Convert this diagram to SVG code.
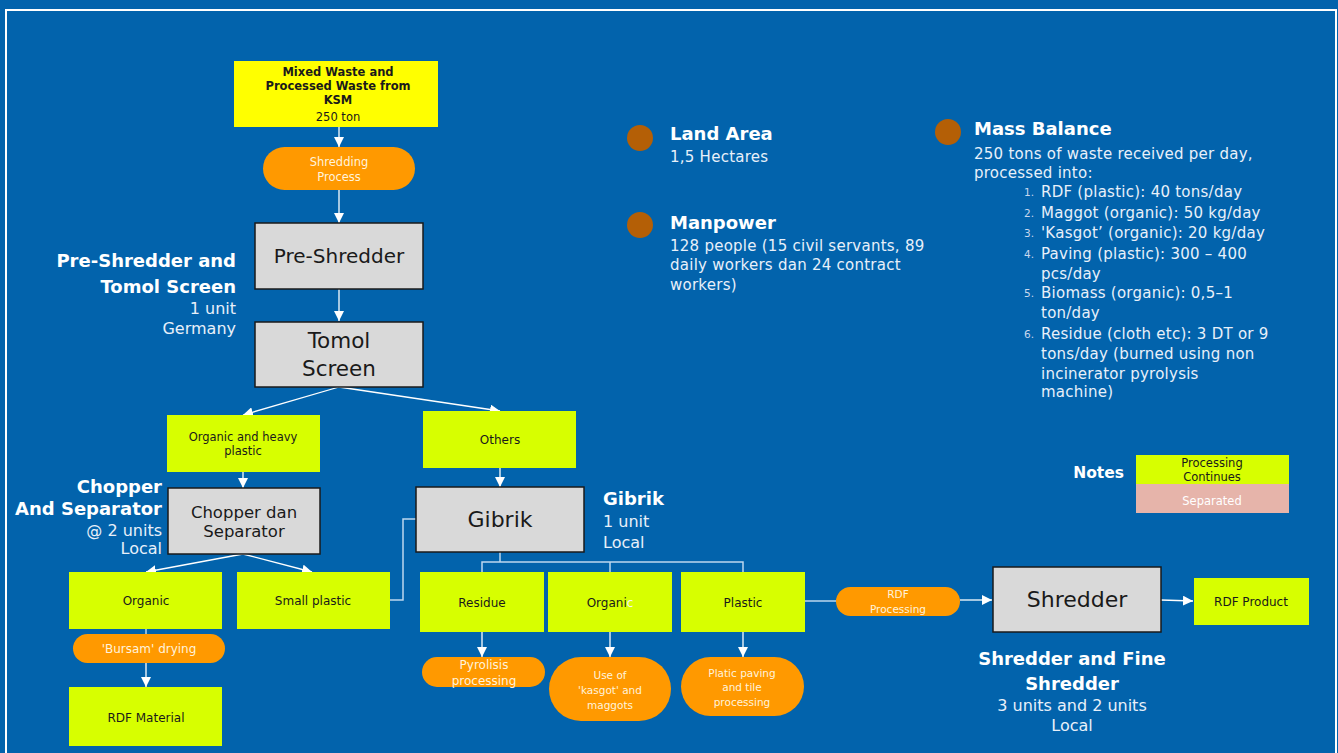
<svg xmlns="http://www.w3.org/2000/svg" width="1338" height="753" viewBox="0 0 1338 753">
<defs>
<marker id="ah" viewBox="0 0 10 10" refX="10" refY="5" markerWidth="10" markerHeight="10" markerUnits="userSpaceOnUse" orient="auto">
<path d="M0,0 L10,5 L0,10 z" fill="#FFFFFF"/>
</marker>
<style>
text{font-family:"DejaVu Sans","Open Sans",sans-serif}
.lime{fill:#D7FF00}
.gray{fill:#D9D9D9;stroke:#1A1A1A;stroke-width:1.5}
.pill{fill:#FF9900}
.dk{fill:#1A1A1A;text-anchor:middle}
.pt{fill:#FFF3DC;text-anchor:middle}
.big{fill:#1A1A1A;text-anchor:middle}
.hd{fill:#FFFFFF;font-weight:bold;font-size:18px}
.sub{fill:#E8F0FA;font-size:16px}
.info{fill:#E8F0FA;font-size:15px;letter-spacing:0.25px}
.num{fill:#C9D8EE;font-size:10.5px}
.c{stroke:#FFFFFF;stroke-width:1.3;fill:none;marker-end:url(#ah)}
.l{stroke:#BDD7EE;stroke-width:1.5;fill:none}
</style>
</defs>
<rect x="0" y="0" width="1338" height="753" fill="#0263AC"/>
<rect x="6" y="10" width="1330" height="760" fill="none" stroke="#FFFFFF" stroke-width="2"/>

<g id="connectors">
<line class="c" x1="339" y1="127" x2="339" y2="147"/>
<line class="c" x1="339" y1="190" x2="339" y2="223"/>
<line class="c" x1="339" y1="289" x2="339" y2="321"/>
<line class="c" x1="339" y1="387" x2="243" y2="415"/>
<line class="c" x1="339" y1="387" x2="500" y2="411"/>
<line class="c" x1="243" y1="472" x2="243" y2="488"/>
<line class="c" x1="243" y1="554" x2="146" y2="572"/>
<line class="c" x1="243" y1="554" x2="312" y2="572"/>
<polyline class="l" points="390,600 403,600 403,519 416,519"/>
<line class="l" x1="146" y1="629" x2="146" y2="634"/>
<line class="c" x1="146" y1="663" x2="146" y2="687"/>
<line class="c" x1="500" y1="468" x2="500" y2="487"/>
<polyline class="l" points="500,552 500,562"/>
<polyline class="l" points="482,572 482,562 743,562 743,572"/>
<line class="l" x1="610" y1="562" x2="610" y2="572"/>
<line class="c" x1="482" y1="632" x2="482" y2="657"/>
<line class="c" x1="610" y1="632" x2="610" y2="657"/>
<line class="c" x1="743" y1="632" x2="743" y2="657"/>
<line class="l" x1="805" y1="601" x2="837" y2="601"/>
<line class="c" x1="960" y1="600" x2="992" y2="600"/>
<line class="c" x1="1161" y1="600" x2="1193" y2="601"/>
</g>

<g id="input">
<rect x="234" y="61" width="204" height="66" fill="#FFFF00"/>
<text class="dk" x="338" y="76" font-size="11.5" font-weight="bold">Mixed Waste and</text>
<text class="dk" x="338" y="90" font-size="11.5" font-weight="bold">Processed Waste from</text>
<text class="dk" x="338" y="104" font-size="11.5" font-weight="bold">KSM</text>
<text class="dk" x="338" y="121" font-size="11.5">250 ton</text>
</g>

<g id="shredding-process">
<rect class="pill" x="263" y="147" width="152" height="43" rx="21.5"/>
<text class="pt" x="339" y="166" font-size="11.5">Shredding</text>
<text class="pt" x="339" y="181" font-size="11.5">Process</text>
</g>

<g id="pre-shredder">
<rect class="gray" x="255" y="223" width="168" height="66"/>
<text class="big" x="339" y="263" font-size="20">Pre-Shredder</text>
</g>

<g id="tomol-screen">
<rect class="gray" x="255" y="322" width="168" height="65"/>
<text class="big" x="339" y="348" font-size="21.5">Tomol</text>
<text class="big" x="339" y="376" font-size="21.5">Screen</text>
</g>

<g id="label-preshredder" text-anchor="end">
<text class="hd" x="236" y="267">Pre-Shredder and</text>
<text class="hd" x="236" y="293">Tomol Screen</text>
<text class="sub" x="236" y="314">1 unit</text>
<text class="sub" x="236" y="334">Germany</text>
</g>

<g id="organic-heavy">
<rect class="lime" x="167" y="415" width="153" height="57"/>
<text class="dk" x="243" y="441" font-size="11.5">Organic and heavy</text>
<text class="dk" x="243" y="455" font-size="11.5">plastic</text>
</g>

<g id="chopper">
<rect class="gray" x="168" y="488" width="152" height="66"/>
<text class="big" x="244" y="518" font-size="16.5">Chopper dan</text>
<text class="big" x="244" y="537" font-size="16.5">Separator</text>
</g>

<g id="label-chopper" text-anchor="end">
<text class="hd" x="162" y="493">Chopper</text>
<text class="hd" x="162" y="515">And Separator</text>
<text class="sub" x="162" y="536">@ 2 units</text>
<text class="sub" x="162" y="554">Local</text>
</g>

<g id="organic-left">
<rect class="lime" x="69" y="572" width="153" height="57"/>
<text class="dk" x="146" y="605" font-size="12">Organic</text>
</g>

<g id="small-plastic">
<rect class="lime" x="237" y="572" width="153" height="57"/>
<text class="dk" x="313" y="605" font-size="12">Small plastic</text>
</g>

<g id="bursam">
<rect class="pill" x="73" y="634" width="152" height="29" rx="14.5"/>
<text class="pt" x="149" y="653" font-size="12">'Bursam' drying</text>
</g>

<g id="rdf-material">
<rect class="lime" x="69" y="687" width="153" height="59"/>
<text class="dk" x="146" y="722" font-size="12">RDF Material</text>
</g>

<g id="others">
<rect class="lime" x="423" y="411" width="153" height="57"/>
<text class="dk" x="500" y="444" font-size="12">Others</text>
</g>

<g id="gibrik">
<rect class="gray" x="416" y="487" width="168" height="65"/>
<text class="big" x="500" y="527" font-size="22">Gibrik</text>
</g>

<g id="label-gibrik">
<text class="hd" x="603" y="505">Gibrik</text>
<text class="sub" x="603" y="527">1 unit</text>
<text class="sub" x="603" y="548">Local</text>
</g>

<g id="residue">
<rect class="lime" x="420" y="572" width="124" height="60"/>
<text class="dk" x="482" y="607" font-size="12">Residue</text>
</g>

<g id="organic-mid">
<rect class="lime" x="548" y="572" width="124" height="60"/>
<text class="dk" x="610" y="607" font-size="12">Organi<tspan fill="#F4F4F4">c</tspan></text>
</g>

<g id="plastic">
<rect class="lime" x="681" y="572" width="124" height="60"/>
<text class="dk" x="743" y="607" font-size="12">Plastic</text>
</g>

<g id="pyrolisis">
<rect class="pill" x="422" y="657" width="123" height="30" rx="15"/>
<text class="pt" x="484" y="669" font-size="12">Pyrolisis</text>
<text class="pt" x="484" y="685" font-size="12">processing</text>
</g>

<g id="kasgot">
<rect class="pill" x="549" y="657" width="122" height="64" rx="32"/>
<text class="pt" x="610" y="679" font-size="10.5">Use of</text>
<text class="pt" x="610" y="694" font-size="10.5">'kasgot' and</text>
<text class="pt" x="610" y="709" font-size="10.5">maggots</text>
</g>

<g id="paving">
<rect class="pill" x="681" y="657" width="123" height="59" rx="29.5"/>
<text class="pt" x="742" y="677" font-size="10.5">Platic paving</text>
<text class="pt" x="742" y="691" font-size="10.5">and tile</text>
<text class="pt" x="742" y="706" font-size="10.5">processing</text>
</g>

<g id="rdf-processing">
<rect class="pill" x="836" y="587" width="124" height="29" rx="14.5"/>
<text class="pt" x="898" y="598" font-size="10.5">RDF</text>
<text class="pt" x="898" y="613" font-size="10.5">Processing</text>
</g>

<g id="shredder">
<rect class="gray" x="993" y="567" width="168" height="65"/>
<text class="big" x="1077" y="607" font-size="22">Shredder</text>
</g>

<g id="rdf-product">
<rect class="lime" x="1194" y="578" width="115" height="47"/>
<text class="dk" x="1251" y="606" font-size="12">RDF Product</text>
</g>

<g id="label-shredder" text-anchor="middle">
<text class="hd" x="1072" y="665">Shredder and Fine</text>
<text class="hd" x="1072" y="690">Shredder</text>
<text class="sub" x="1072" y="711">3 units and 2 units</text>
<text class="sub" x="1072" y="731">Local</text>
</g>

<g id="notes">
<text x="1124" y="478" fill="#FFFFFF" font-weight="bold" font-size="15.5" text-anchor="end">Notes</text>
<rect class="lime" x="1136" y="455" width="153" height="29"/>
<text class="dk" x="1212" y="467" font-size="11.5">Processing</text>
<text class="dk" x="1212" y="481" font-size="11.5">Continues</text>
<rect x="1136" y="484" width="153" height="29" fill="#E6B4AA"/>
<text x="1212" y="505" fill="#FFFFFF" font-size="11.5" text-anchor="middle">Separated</text>
</g>

<g id="land-area">
<circle cx="640" cy="138" r="13" fill="#B45F06"/>
<text class="hd" x="670" y="140">Land Area</text>
<text class="info" x="670" y="162">1,5 Hectares</text>
</g>

<g id="manpower">
<circle cx="640" cy="225" r="13" fill="#B45F06"/>
<text class="hd" x="670" y="229">Manpower</text>
<text class="info" x="670" y="251">128 people (15 civil servants, 89</text>
<text class="info" x="670" y="270">daily workers dan 24 contract</text>
<text class="info" x="670" y="290">workers)</text>
</g>

<g id="mass-balance">
<circle cx="948" cy="132" r="13" fill="#B45F06"/>
<text class="hd" x="974" y="135">Mass Balance</text>
<text class="info" x="974" y="159">250 tons of waste received per day,</text>
<text class="info" x="974" y="178">processed into:</text>
<text class="num" x="1024" y="196">1.</text>
<text class="info" x="1041" y="197">RDF (plastic): 40 tons/day</text>
<text class="num" x="1024" y="217">2.</text>
<text class="info" x="1041" y="218">Maggot (organic): 50 kg/day</text>
<text class="num" x="1024" y="237">3.</text>
<text class="info" x="1041" y="238">'Kasgot’ (organic): 20 kg/day</text>
<text class="num" x="1024" y="258">4.</text>
<text class="info" x="1041" y="259">Paving (plastic): 300 – 400</text>
<text class="info" x="1041" y="279">pcs/day</text>
<text class="num" x="1024" y="297">5.</text>
<text class="info" x="1041" y="298">Biomass (organic): 0,5–1</text>
<text class="info" x="1041" y="318">ton/day</text>
<text class="num" x="1024" y="338">6.</text>
<text class="info" x="1041" y="339">Residue (cloth etc): 3 DT or 9</text>
<text class="info" x="1041" y="359">tons/day (burned using non</text>
<text class="info" x="1041" y="379">incinerator pyrolysis</text>
<text class="info" x="1041" y="397">machine)</text>
</g>
</svg>
